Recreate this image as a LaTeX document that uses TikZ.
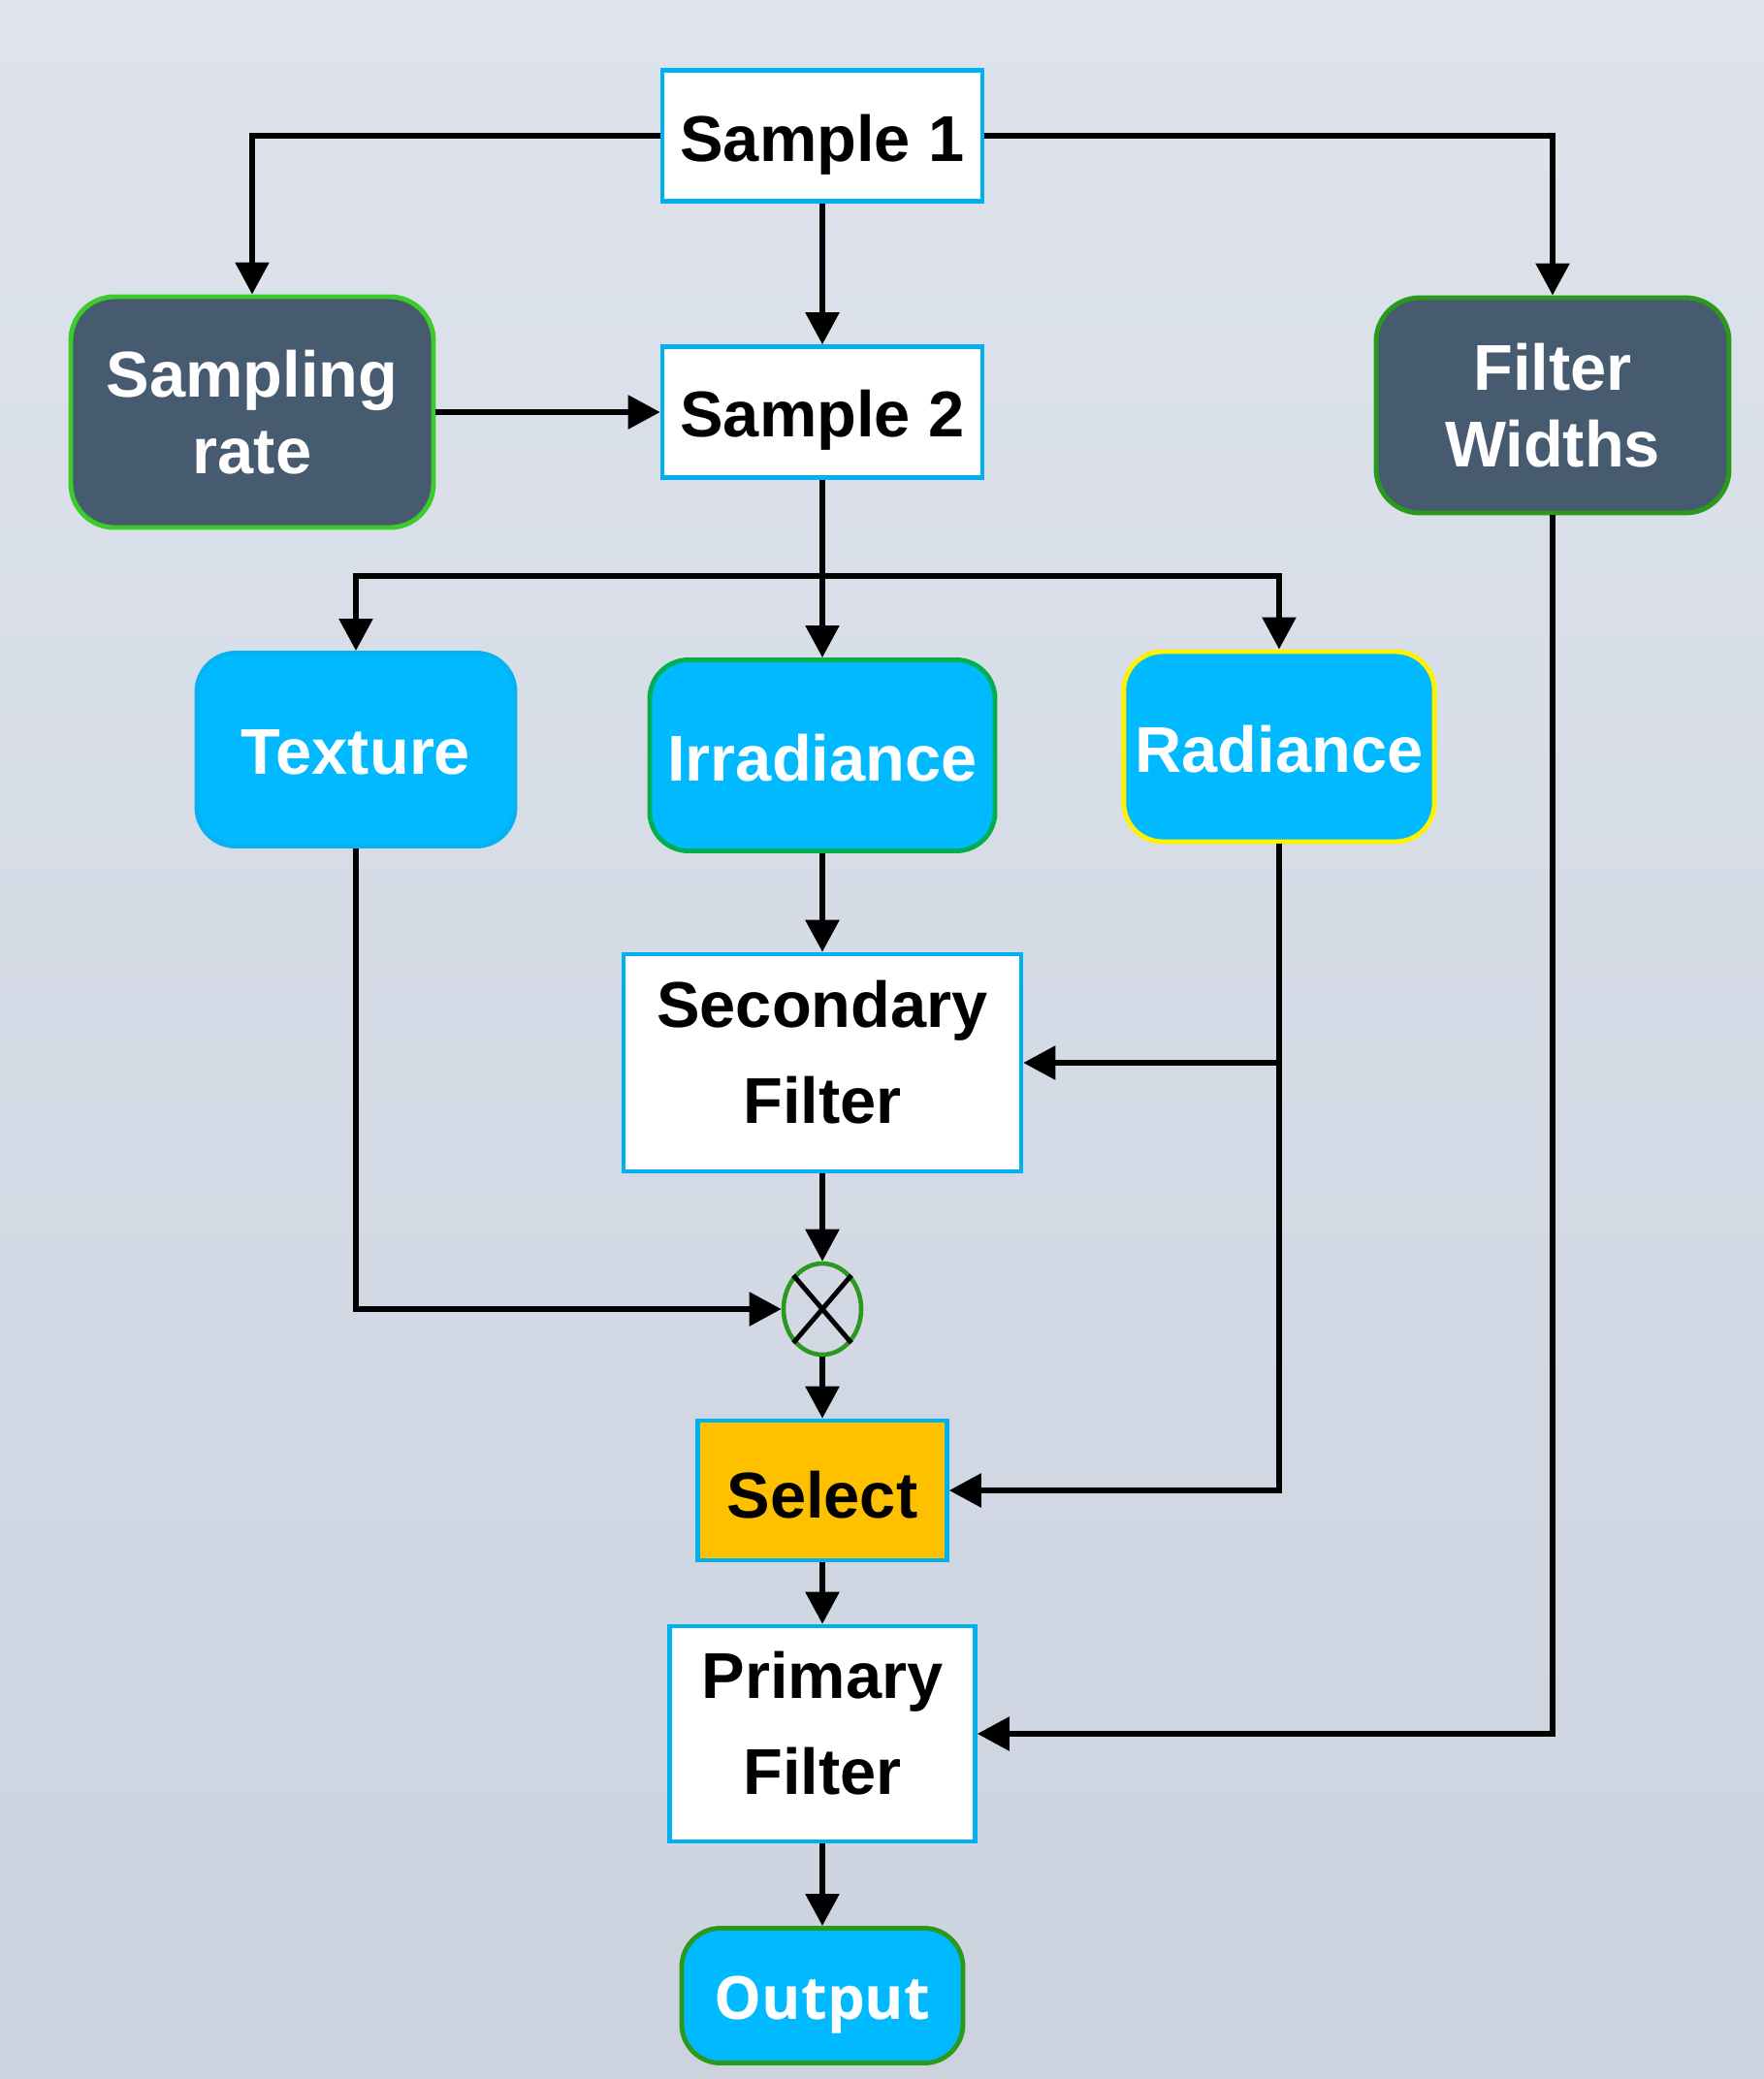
\documentclass[tikz,border=0pt]{standalone}
\usepackage{fontspec}
\setmainfont{Liberation Sans}
\newfontfamily\outfont{Open Sans}
\usepackage{tikz}
\usetikzlibrary{arrows.meta,shapes.geometric,calc}

\definecolor{bgtop}{HTML}{DEE3EC}
\definecolor{bgbot}{HTML}{CCD3DF}
\definecolor{boxline}{HTML}{00B0F0}
\definecolor{slate}{HTML}{465A70}
\definecolor{limeedge}{HTML}{3CCB28}
\definecolor{darkedge}{HTML}{2A9A1C}
\definecolor{irredge}{HTML}{00B050}
\definecolor{cyanfill}{HTML}{00B9FF}
\definecolor{texedge}{HTML}{05B3F2}
\definecolor{selfill}{HTML}{FFC000}

% move a label up or down inside its box
\newcommand{\nudge}[2]{\raisebox{#1}[\height][\depth]{#2}}
\newcommand{\twolines}[2]{\begin{tabular}{@{}c@{}}#1\\[5.4pt]#2\end{tabular}}

\begin{document}
\begin{tikzpicture}[>={Triangle[length=3.3mm,width=3.4mm]},line width=1.6pt,font=\fontsize{19}{22.5}\selectfont\bfseries]

    \tikzstyle{whitebox}=[draw=boxline,fill=white,line width=1.3pt,minimum width=3.3cm,minimum height=1.35cm,text=black]
    \tikzstyle{slatebox}=[draw=limeedge,fill=slate,rounded corners=0.45cm,line width=1.4pt,text=white,align=center]
    \tikzstyle{cyanbox}=[fill=cyanfill,rounded corners=0.4cm,line width=1.4pt,text=white]

    % page and background
    \useasboundingbox (0,0) rectangle (18.19,-21.44);
    \shade[top color=bgtop,bottom color=bgbot] (0,0) rectangle (18.19,-21.44);

    \node[whitebox] (s1) at (8.48,-1.40) {\nudge{-2.6pt}{Sample 1}};
    \node[whitebox,below of=s1,node distance=2.85cm] (s2) {\nudge{-2.4pt}{Sample 2}};
    \node[slatebox,left of=s2,node distance=5.88cm,minimum width=3.74cm,minimum height=2.38cm] (rate) {Sampling\\rate};
    \node[slatebox,draw=darkedge,right of=s2,node distance=7.53cm,yshift=0.07cm,minimum width=3.64cm,minimum height=2.22cm] (widths) {Filter\\Widths};

    \node[cyanbox,draw=irredge,below of=s2,node distance=3.54cm,minimum width=3.56cm,minimum height=1.97cm] (irr) {\nudge{-0.8pt}{Irradiance}};
    \node[cyanbox,draw=texedge,left of=irr,node distance=4.81cm,yshift=0.06cm,minimum width=3.28cm,minimum height=1.99cm] (tex) {\nudge{-0.8pt}{Texture}};
    \node[cyanbox,draw=yellow,right of=irr,node distance=4.71cm,yshift=0.09cm,minimum width=3.17cm,minimum height=1.96cm] (rad) {\nudge{-0.8pt}{Radiance}};

    \node[whitebox,below of=irr,node distance=3.17cm,minimum width=4.10cm,minimum height=2.24cm] (sec) {\nudge{0.8pt}{\twolines{Secondary}{Filter}}};
    \node[ellipse,draw=darkedge,line width=1.3pt,minimum width=0.80cm,minimum height=0.94cm,inner sep=0pt,below of=sec,node distance=2.54cm] (mul) {};
    \node[whitebox,fill=selfill,below of=mul,node distance=1.87cm,minimum width=2.57cm,minimum height=1.44cm] (sel) {\nudge{-1.2pt}{Select}};
    \node[whitebox,below of=sel,node distance=2.51cm,minimum width=3.15cm,minimum height=2.22cm] (prim) {\nudge{0.8pt}{\twolines{Primary}{Filter}}};
    \node[cyanbox,draw=darkedge,below of=prim,node distance=2.70cm,minimum width=2.90cm,minimum height=1.39cm,font=\outfont\fontsize{17.5}{20}\selectfont\bfseries] (out) {\nudge{-2.6pt}{Output}};

    % cross in the multiplier
    \draw[line width=1.4pt] (mul.north west) -- (mul.south east) (mul.north east) -- (mul.south west);

    \coordinate (fork) at ($(s2.south)!0.54!(irr.north)$);

    \draw[->] (s1.west) -| (rate.north);
    \draw[->] (s1.east) -| (widths.north);
    \draw[->] (s1) -- (s2);
    \draw[->] (rate.east) -- (s2.west);
    \draw[->] (s2) -- (irr);
    \draw[->] (fork) -| (tex.north);
    \draw[->] (fork) -| (rad.north);
    \draw[->] (irr) -- (sec);
    \draw[->] (sec) -- (mul);
    \draw[->] (tex.south) |- (mul.west);
    \draw[->] (mul) -- (sel);
    \draw[->] (rad.south) |- (sel.east);
    \draw[->] (rad.south |- sec.east) -- (sec.east);
    \draw[->] (sel) -- (prim);
    \draw[->] (widths.south) |- (prim.east);
    \draw[->] (prim) -- (out);

\end{tikzpicture}
\end{document}
